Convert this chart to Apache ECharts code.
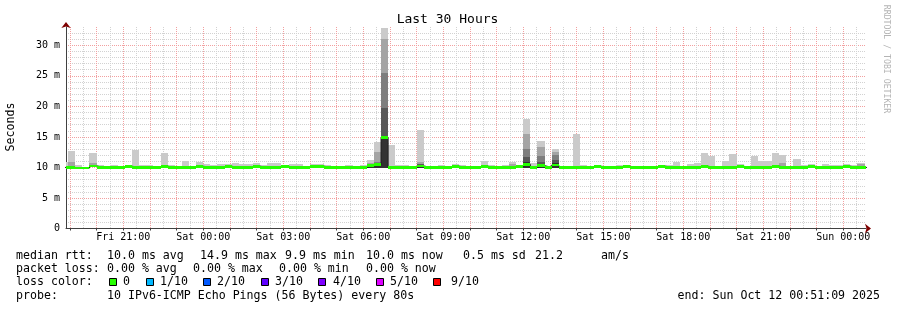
<!DOCTYPE html>
<html><head><meta charset="utf-8">
<script src="https://cdn.jsdelivr.net/npm/echarts@6/dist/echarts.min.js"></script>
<style>html,body{margin:0;padding:0;background:#fff}#c{width:897px;height:310px}</style>
</head><body><div id="c"></div>
<script>
// ---------------- DATA ----------------
// time in minutes since Fri 00:00
const startMin = 1131.15;   // Fri 18:51:09
const endMin = 2931.15;     // Sun 00:51:09
const firstBarStart = 1120; // Fri 18:40
const barMinutes = 16;

// median rtt per 16-minute bar (ms)
const median = [
 10.0,10.0,9.9,9.9,10.25,10.0,10.0,10.0,10.0,10.2,
 10.0,10.0,10.0,10.0,10.2,10.0,10.0,10.0,10.0,10.2,
 10.0,10.0,10.0,10.2,10.0,10.0,10.0,10.2,10.0,10.0,
 10.0,10.2,10.0,10.0,10.0,10.2,10.2,10.0,10.0,10.0,
 10.0,10.0,10.0,10.3,10.5,14.9,10.0,10.0,10.0,10.0,
 10.25,10.0,10.0,10.0,10.0,10.2,10.0,10.0,10.0,10.2,
 10.0,10.0,10.0,10.0,10.2,10.5,10.0,10.3,10.0,10.4,
 10.0,10.0,10.0,10.0,10.0,10.2,10.0,10.0,10.0,10.2,
 10.0,10.0,10.0,10.0,10.2,10.0,10.0,10.0,10.0,10.0,
 10.2,10.0,10.0,10.0,10.0,10.2,9.95,10.0,10.0,10.0,
 10.2,10.0,10.0,10.0,10.0,10.2,10.0,10.0,10.0,10.0,
 10.2,10.0,10.0,10.0
];
// highest ping per bar (top of the lightest smoke), null = no visible smoke
const ping10 = [
 10.9,12.65,10.36,null,12.4,10.36,10.3,10.36,null,null,
 12.87,10.36,10.36,10.2,12.4,10.36,10.3,11.07,10.2,10.85,
 10.5,10.36,10.5,10.5,10.7,10.5,10.5,10.65,10.36,10.74,
 10.74,10.3,10.52,10.52,10.3,10.52,10.52,10.36,null,null,
 10.36,null,10.36,11.18,14.17,32.9,13.63,10.36,10.36,null,
 16.1,10.3,null,10.4,null,10.5,10.36,null,null,11.07,
 10.36,null,10.36,10.9,10.2,18.0,10.7,14.3,null,12.98,
 null,null,15.5,10.36,null,10.36,null,null,10.36,null,
 10.15,null,10.15,null,10.36,10.47,10.9,10.2,10.52,10.74,
 12.38,11.85,null,11.05,12.16,10.52,null,11.83,11.07,11.07,
 12.38,12.0,null,11.34,10.36,10.52,null,10.52,10.36,10.36,
 10.52,10.36,10.74,null
];
// inner smoke edges (9th .. 6th ranked ping), only where visible; keyed by bar index
const ping9 = {1:10.9, 4:10.7, 27:10.4, 43:10.7, 44:12.45, 45:31.0, 50:10.9, 59:10.36, 63:10.5, 65:15.55, 67:13.36, 69:12.5, 101:10.74, 112:10.5};
const ping8 = {43:10.5, 44:10.9, 45:25.5, 50:10.6, 65:13.0, 67:11.9, 69:12.0};
const ping7 = {43:10.45, 44:10.7, 45:19.8, 50:10.5, 65:11.7, 67:10.9, 69:11.18};
const ping6 = {43:10.4, 44:10.6, 45:15.0, 50:10.4, 65:10.9, 67:10.6, 69:10.7};
// lowest ping where smoke reaches below the median band
const ping1 = {43:9.95, 44:9.9, 45:9.9, 50:9.95, 65:9.9, 67:9.9, 69:9.9};

// axis ticks
const xHourTicks = [1140,1200,1260,1320,1380,1440,1500,1560,1620,1680,1740,1800,1860,1920,1980,2040,2100,2160,2220,2280,2340,2400,2460,2520,2580,2640,2700,2760,2820,2880];
const xHalfHourTicks = [1170,1230,1290,1350,1410,1470,1530,1590,1650,1710,1770,1830,1890,1950,2010,2070,2130,2190,2250,2310,2370,2430,2490,2550,2610,2670,2730,2790,2850,2910];
const xLabelValues = [1260,1440,1620,1800,1980,2160,2340,2520,2700,2880];
const xLabelTexts = ['Fri 21:00','Sat 00:00','Sat 03:00','Sat 06:00','Sat 09:00','Sat 12:00','Sat 15:00','Sat 18:00','Sat 21:00','Sun 00:00'];
const yMajorTicks = [0,5,10,15,20,25,30];
const yMajorLabels = ['0','5 m','10 m','15 m','20 m','25 m','30 m'];
const yMinorTicks = [1,2,3,4,6,7,8,9,11,12,13,14,16,17,18,19,21,22,23,24,26,27,28,29,31,32];
const yMax = 33;

const titleText = 'Last 30 Hours';
const yName = 'Seconds';
const legendLines = [
  [[16,'median rtt:'],[107,'10.0 ms avg'],[200,'14.9 ms max'],[285,'9.9 ms min'],[366,'10.0 ms now'],[463,'0.5 ms sd'],[535,'21.2'],[601,'am/s']],
  [[16,'packet loss:'],[107,'0.00 % avg'],[193,'0.00 % max'],[279,'0.00 % min'],[366,'0.00 % now']],
  [[16,'loss color:']],
  [[16,'probe:'],[107,'10 IPv6-ICMP Echo Pings (56 Bytes) every 80s']]
];
const lossLabels = ['0','1/10','2/10','3/10','4/10','5/10','9/10'];
const lossColors = ['#26ff00','#00b8ff','#0059ff','#5e00ff','#7e00ff','#dd00ff','#ff0000'];
const endText = 'end: Sun Oct 12 00:51:09 2025';
const watermark = 'RRDTOOL / TOBI OETIKER';

// ---------------- CHART ----------------
const FONT = '"DejaVu Sans Mono", monospace';
const chart = echarts.init(document.getElementById('c'), null, {renderer:'canvas', width:897, height:310});
const n = median.length;
const barStart = k => firstBarStart + barMinutes * k;

function rectSeries(items, color, z) {
  return {
    type: 'custom', xAxisIndex: 2, yAxisIndex: 1, z: z, silent: true, animation: false, clip: true,
    data: items, encode: {x: [0, 1], y: [2, 3]},
    renderItem: function (params, api) {
      const a = api.coord([api.value(0), api.value(3)]);
      const b = api.coord([api.value(1), api.value(2)]);
      const cs = params.coordSys;
      const x0 = Math.max(Math.round(a[0]), cs.x);
      const x1 = Math.min(Math.round(b[0]), cs.x + cs.width);
      const y0 = Math.round(a[1]);
      const y1 = Math.max(Math.round(b[1]), y0 + 1);
      if (x1 <= x0) return null;
      return {type: 'rect', shape: {x: x0, y: y0, width: x1 - x0, height: y1 - y0}, style: {fill: color}};
    }
  };
}

const layerTops = [ping10, ping9, ping8, ping7, ping6];
const layerColors = ['#cacaca', '#a4a4a4', '#7e7e7e', '#585858', '#323232'];
const series = [];
layerTops.forEach(function (tops, L) {
  const items = [];
  for (let k = 0; k < n; k++) {
    const top = tops[k];
    const lo = ping1[k] != null ? ping1[k] : median[k];
    if (top != null && top > lo) items.push([barStart(k), barStart(k) + barMinutes, lo, top]);
  }
  series.push(rectSeries(items, layerColors[L], 2 + L * 0.01));
});
// thin median step line
const medLine = [];
for (let k = 0; k < n; k++) medLine.push([barStart(k), median[k]]);
medLine.push([barStart(n - 1) + barMinutes, median[n - 1]]);
series.push({type: 'line', xAxisIndex: 2, yAxisIndex: 1, step: 'end', data: medLine, symbol: 'none', z: 3,
  lineStyle: {color: '#202020', width: 1}, silent: true, animation: false});
// loss-coloured median band
const band = 0.22;
const bandItems = [];
for (let k = 0; k < n; k++) bandItems.push([barStart(k), barStart(k) + barMinutes, median[k] - band, median[k] + band]);
series.push(rectSeries(bandItems, lossColors[0], 4));

const gridGrey = {color: '#d2d2d2', width: 1, type: [1, 1]};
const gridRed = {color: '#f2a0a0', width: 1, type: [1, 1]};
const baseX = {type: 'value', min: startMin, max: endMin, position: 'bottom', axisLine: {show: false, onZero: false}, axisLabel: {show: false}, axisTick: {show: false}, splitLine: {show: false}};
const baseY = {type: 'value', min: 0, max: yMax, position: 'left', axisLine: {show: false, onZero: false}, axisLabel: {show: false}, axisTick: {show: false}, splitLine: {show: false}};

const graphics = [];
graphics.push({type: 'text', x: 447.5, y: 20, style: {text: titleText, font: '13px ' + FONT, fill: '#000', align: 'center', verticalAlign: 'middle'}});
graphics.push({type: 'text', x: 11, y: 127, rotation: Math.PI / 2, style: {text: yName, font: '11.6px ' + FONT, fill: '#000', align: 'center', verticalAlign: 'middle'}});
graphics.push({type: 'text', x: 886, y: 59, rotation: -Math.PI / 2, style: {text: watermark, font: '8.2px ' + FONT, fill: '#b4b4b4', align: 'center', verticalAlign: 'middle'}});
const lineY = [255.5, 268.8, 282.2, 295.5];
legendLines.forEach(function (segs, i) {
  segs.forEach(function (s) {
    graphics.push({type: 'text', x: s[0], y: lineY[i], style: {text: s[1], font: '11.6px ' + FONT, fill: '#000', align: 'left', verticalAlign: 'middle'}});
  });
});
const boxX = [109, 146, 203, 261, 318, 376, 433];
const lblX = [123, 160, 217, 275, 333, 390, 451];
lossLabels.forEach(function (t, i) {
  graphics.push({type: 'rect', shape: {x: boxX[i] + 0.5, y: 278.5, width: 7, height: 7}, style: {fill: lossColors[i], stroke: '#000', lineWidth: 1}});
  graphics.push({type: 'text', x: lblX[i], y: lineY[2], style: {text: t, font: '11.6px ' + FONT, fill: '#000', align: 'left', verticalAlign: 'middle'}});
});
graphics.push({type: 'text', x: 880, y: lineY[3], style: {text: endText, font: '11.6px ' + FONT, fill: '#000', align: 'right', verticalAlign: 'middle'}});

chart.setOption({
  backgroundColor: '#ffffff',
  animation: false,
  grid: {left: 66, top: 27, width: 800, height: 201.5, containLabel: false},
  xAxis: [
    Object.assign({}, baseX, {axisTick: {show: false, customValues: xHalfHourTicks}, splitLine: {show: true, lineStyle: gridGrey}}),
    Object.assign({}, baseX, {axisTick: {show: false, customValues: xHourTicks}, splitLine: {show: true, lineStyle: gridRed},
      axisLine: {show: true, onZero: false, symbol: ['none', 'arrow'], symbolSize: [7, 6], symbolOffset: [0, 5], lineStyle: {color: '#7f0000', width: 0.01}}}),
    Object.assign({}, baseX, {
      axisLine: {show: true, onZero: false, lineStyle: {color: '#404040', width: 1}},
      axisTick: {show: true, customValues: xHourTicks, length: 2, lineStyle: {color: '#404040'}},
      axisLabel: {show: true, customValues: xLabelValues, margin: 4, fontFamily: 'DejaVu Sans Mono', fontSize: 10, color: '#000',
        formatter: function (v) { const i = xLabelValues.indexOf(Math.round(v)); return i >= 0 ? xLabelTexts[i] : ''; }}
    })
  ],
  yAxis: [
    Object.assign({}, baseY, {axisTick: {show: false, customValues: yMinorTicks}, splitLine: {show: true, lineStyle: gridGrey}}),
    Object.assign({}, baseY, {
      axisTick: {show: false, customValues: yMajorTicks},
      splitLine: {show: true, lineStyle: gridRed},
      axisLine: {show: true, onZero: false, lineStyle: {color: '#404040', width: 1}},
      axisLabel: {show: true, customValues: yMajorTicks, margin: 6, fontFamily: 'DejaVu Sans Mono', fontSize: 10, color: '#000',
        formatter: function (v) { const i = yMajorTicks.indexOf(Math.round(v)); return i >= 0 ? yMajorLabels[i] : ''; }}
    }),
    Object.assign({}, baseY, {axisLine: {show: true, onZero: false, symbol: ['none', 'arrow'], symbolSize: [7, 6], symbolOffset: [0, 5], lineStyle: {color: '#7f0000', width: 0.01}}})
  ],
  series: series,
  graphic: graphics
});
</script></body></html>
